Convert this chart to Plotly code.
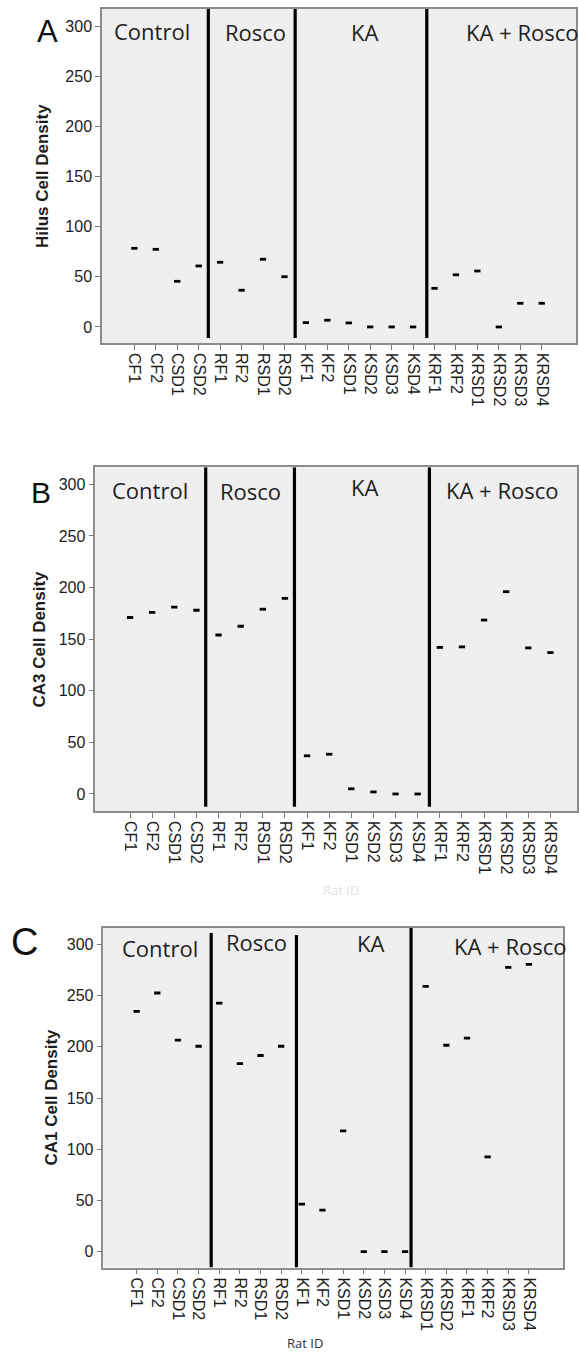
import plotly.graph_objects as go

W, H = 579, 1353

# ---------------- data ----------------
rats_ab = ["CF1", "CF2", "CSD1", "CSD2", "RF1", "RF2", "RSD1", "RSD2",
           "KF1", "KF2", "KSD1", "KSD2", "KSD3", "KSD4",
           "KRF1", "KRF2", "KRSD1", "KRSD2", "KRSD3", "KRSD4"]
rats_c = ["CF1", "CF2", "CSD1", "CSD2", "RF1", "RF2", "RSD1", "RSD2",
          "KF1", "KF2", "KSD1", "KSD2", "KSD3", "KSD4",
          "KRSD1", "KRSD2", "KRF1", "KRF2", "KRSD3", "KRSD4"]

hilus = [78.4, 77.4, 45.5, 60.8, 64.5, 36.6, 67.5, 50.1,
         4.3, 6.7, 4.0, 0, 0, 0,
         38.5, 52.0, 55.8, 0, 23.6, 23.6]
ca3 = [171, 176, 181, 178, 154, 162.5, 179, 189.5,
       37, 38.5, 5, 2, 0, 0,
       142, 142.5, 168.5, 196, 141.5, 137]
ca1 = [234.5, 252.5, 206.5, 200.5, 242.5, 183.5, 191.5, 200.5,
       46.5, 40.5, 118, 0, 0, 0,
       259, 201.5, 208.5, 92.5, 277.5, 280.5]

groups = ["Control", "Rosco", "KA", "KA + Rosco"]
y_titles = ["Hilus Cell Density", "CA3 Cell Density", "CA1 Cell Density"]
panel_letters = ["A", "B", "C"]
y_ticks = [0, 50, 100, 150, 200, 250, 300]


def px(x):
    return x / W


def py(y):
    return 1 - y / H


# ---------------- layout geometry (pixels) ----------------
panels = [
    dict(cats=rats_ab, vals=hilus, left=102, right=576, top=9, bottom=343,
         xr=[-1.51, 20.6], yr=[-16, 317],
         seps=[(3.45, -11, 317), (7.5, -11, 317), (13.64, -11, 317)],
         glab=[(152, 31), (255.5, 32), (364, 31.5), (522, 32)],
         letter=(47, 31, 31), ytitle=(42.5, 176.5)),
    dict(cats=rats_ab, vals=ca3, left=95.3, right=577, top=467.3, bottom=811,
         xr=[-1.57, 20.2], yr=[-16.5, 316.5],
         seps=[(3.42, -12.3, 316.5), (7.43, -12.3, 316.5), (13.53, -12.3, 316.5)],
         glab=[(150, 490), (250.6, 491), (364.5, 487), (502, 490)],
         letter=(40.6, 492, 30), ytitle=(38.5, 639)),
    dict(cats=rats_c, vals=ca1, left=103.4, right=563, top=927.7, bottom=1267.5,
         xr=[-1.61, 20.65], yr=[-15.4, 316.2],
         seps=[(3.61, -15.4, 311), (7.74, -15.4, 309), (13.29, -15.4, 316.2)],
         glab=[(160, 948), (256, 942), (370, 943), (509.6, 946)],
         letter=(24, 942, 38), ytitle=(51, 1096.5)),
]

fig = go.Figure()
layout = dict(width=W, height=H, autosize=False,
              margin=dict(l=0, r=0, t=0, b=0),
              paper_bgcolor="white", plot_bgcolor="#efefef",
              showlegend=False)
shapes = []
annotations = []

for i, p in enumerate(panels):
    n = "" if i == 0 else str(i + 1)
    fig.add_trace(go.Scatter(
        x=p["cats"], y=p["vals"], mode="markers",
        xaxis="x" + n, yaxis="y" + n,
        marker=dict(symbol="line-ew", size=4.5, color="black",
                    line=dict(color="black", width=2.8)),
        hoverinfo="x+y"))
    axis_common = dict(showline=True, mirror=True, linecolor="#8c8c8c",
                       linewidth=1.5, showgrid=False, zeroline=False,
                       ticks="outside", ticklen=5, tickwidth=1,
                       tickcolor="#7a7a7a",
                       tickfont=dict(family="Arial", size=16, color="#1c1c1c"))
    layout["xaxis" + n] = dict(
        axis_common, domain=[px(p["left"]), px(p["right"])],
        anchor="y" + n, type="category", categoryorder="array",
        categoryarray=p["cats"], range=p["xr"], tickangle=90)
    layout["yaxis" + n] = dict(
        axis_common, domain=[py(p["bottom"]), py(p["top"])],
        anchor="x" + n, range=p["yr"], tickvals=y_ticks)

    for (xs, y0, y1) in p["seps"]:
        shapes.append(dict(type="line", xref="x" + n, yref="y" + n,
                           x0=xs, x1=xs, y0=y0, y1=y1,
                           line=dict(color="black", width=3.2)))

    for g, (gx, gy) in zip(groups, p["glab"]):
        annotations.append(dict(text=g, xref="paper", yref="paper",
                                x=px(gx), y=py(gy), xanchor="center",
                                yanchor="middle", showarrow=False,
                                font=dict(family="Open Sans", size=22,
                                          color="#1e1e1e")))
    lx, ly, ls = p["letter"]
    annotations.append(dict(text=panel_letters[i], xref="paper", yref="paper",
                            x=px(lx), y=py(ly), xanchor="center",
                            yanchor="middle", showarrow=False,
                            font=dict(family="Arial", size=ls, color="#111")))
    tx, ty = p["ytitle"]
    annotations.append(dict(text="<b>" + y_titles[i] + "</b>", xref="paper",
                            yref="paper", x=px(tx), y=py(ty),
                            xanchor="center", yanchor="middle",
                            textangle=-90, showarrow=False,
                            font=dict(family="Arial", size=17, color="#1c1c1c")))

annotations.append(dict(text="Rat ID", xref="paper", yref="paper",
                        x=px(305), y=py(1343), xanchor="center",
                        yanchor="middle", showarrow=False,
                        font=dict(family="Open Sans", size=13, color="#333")))
# faint remnant of a cropped axis title below panel B
annotations.append(dict(text="Rat ID", xref="paper", yref="paper",
                        x=px(341), y=py(890), xanchor="center",
                        yanchor="middle", showarrow=False,
                        font=dict(family="Open Sans", size=13, color="#e2e2e2")))

layout["shapes"] = shapes
layout["annotations"] = annotations
fig.update_layout(**layout)
fig.write_html("out.html")
